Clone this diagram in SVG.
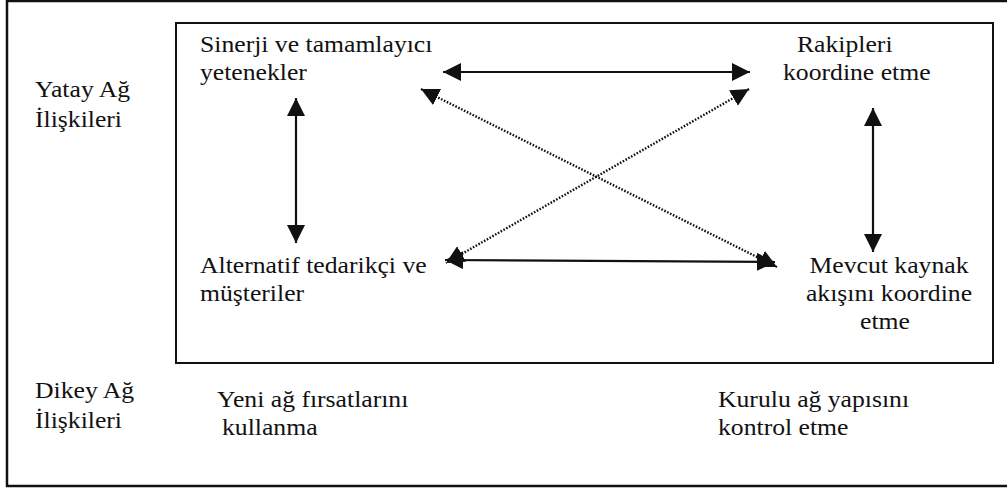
<svg xmlns="http://www.w3.org/2000/svg" width="1007" height="490" viewBox="0 0 1007 490">
  <style>
    text { font-family: "Liberation Serif", "Times New Roman", serif; font-size: 24px; fill: #111; }
    .frame { fill: none; stroke: #111; }
    .solid { stroke: #111; stroke-width: 2.2; fill: none; }
    .dotted { stroke: #111; stroke-width: 2.4; fill: none; stroke-dasharray: 1.6 1.6; }
  </style>
  <defs>
    <marker id="head" markerUnits="userSpaceOnUse" markerWidth="20" markerHeight="20" refX="18" refY="9" orient="auto-start-reverse">
      <path d="M0,0 L18,9 L0,18 Z" fill="#111"/>
    </marker>
  </defs>

  <rect fill="#fff" width="1007" height="490"/>

  <!-- outer and inner frames -->
  <rect class="frame" x="7" y="1" width="1010" height="485" stroke-width="2.5"/>
  <rect class="frame" x="176" y="23" width="817" height="340" stroke-width="2"/>

  <!-- row / column headings (type is set slightly wide: scale 1.07 horizontally) -->
  <g id="yatay">
    <text transform="translate(35 97) scale(1.07 1)">Yatay Ağ</text>
    <text transform="translate(35 127) scale(1.07 1)">İlişkileri</text>
  </g>
  <g id="dikey">
    <text transform="translate(35 398) scale(1.07 1)">Dikey Ağ</text>
    <text transform="translate(35 428) scale(1.07 1)">İlişkileri</text>
  </g>
  <g id="yeni">
    <text transform="translate(217 407) scale(1.07 1)">Yeni ağ fırsatlarını</text>
    <text transform="translate(222 435) scale(1.07 1)">kullanma</text>
  </g>
  <g id="kurulu">
    <text transform="translate(718 407) scale(1.07 1)">Kurulu ağ yapısını</text>
    <text transform="translate(718 435) scale(1.07 1)">kontrol etme</text>
  </g>

  <!-- quadrant nodes -->
  <g id="sinerji">
    <text transform="translate(200 52) scale(1.07 1)">Sinerji ve tamamlayıcı</text>
    <text transform="translate(200 80) scale(1.07 1)">yetenekler</text>
  </g>
  <g id="rakipler">
    <text transform="translate(797 52) scale(1.07 1)">Rakipleri</text>
    <text transform="translate(783 80) scale(1.07 1)">koordine etme</text>
  </g>
  <g id="alternatif">
    <text transform="translate(200 273) scale(1.07 1)">Alternatif tedarikçi ve</text>
    <text transform="translate(200 301) scale(1.07 1)">müşteriler</text>
  </g>
  <g id="mevcut">
    <text transform="translate(889 273) scale(1.07 1)" text-anchor="middle">Mevcut kaynak</text>
    <text transform="translate(889 301) scale(1.07 1)" text-anchor="middle">akışını koordine</text>
    <text transform="translate(885 329) scale(1.07 1)" text-anchor="middle">etme</text>
  </g>

  <!-- connectors -->
  <g id="connectors">
    <line class="solid" x1="443" y1="72" x2="750" y2="72" marker-start="url(#head)" marker-end="url(#head)"/>
    <line class="solid" x1="445" y1="260" x2="775" y2="262" marker-start="url(#head)" marker-end="url(#head)"/>
    <line class="solid" x1="296" y1="98" x2="296" y2="243" marker-start="url(#head)" marker-end="url(#head)"/>
    <line class="solid" x1="873" y1="108" x2="873" y2="252" marker-start="url(#head)" marker-end="url(#head)"/>
    <line class="dotted" x1="421" y1="89" x2="777" y2="267" marker-start="url(#head)" marker-end="url(#head)"/>
    <line class="dotted" x1="749" y1="89" x2="446" y2="263" marker-start="url(#head)" marker-end="url(#head)"/>
  </g>
</svg>
